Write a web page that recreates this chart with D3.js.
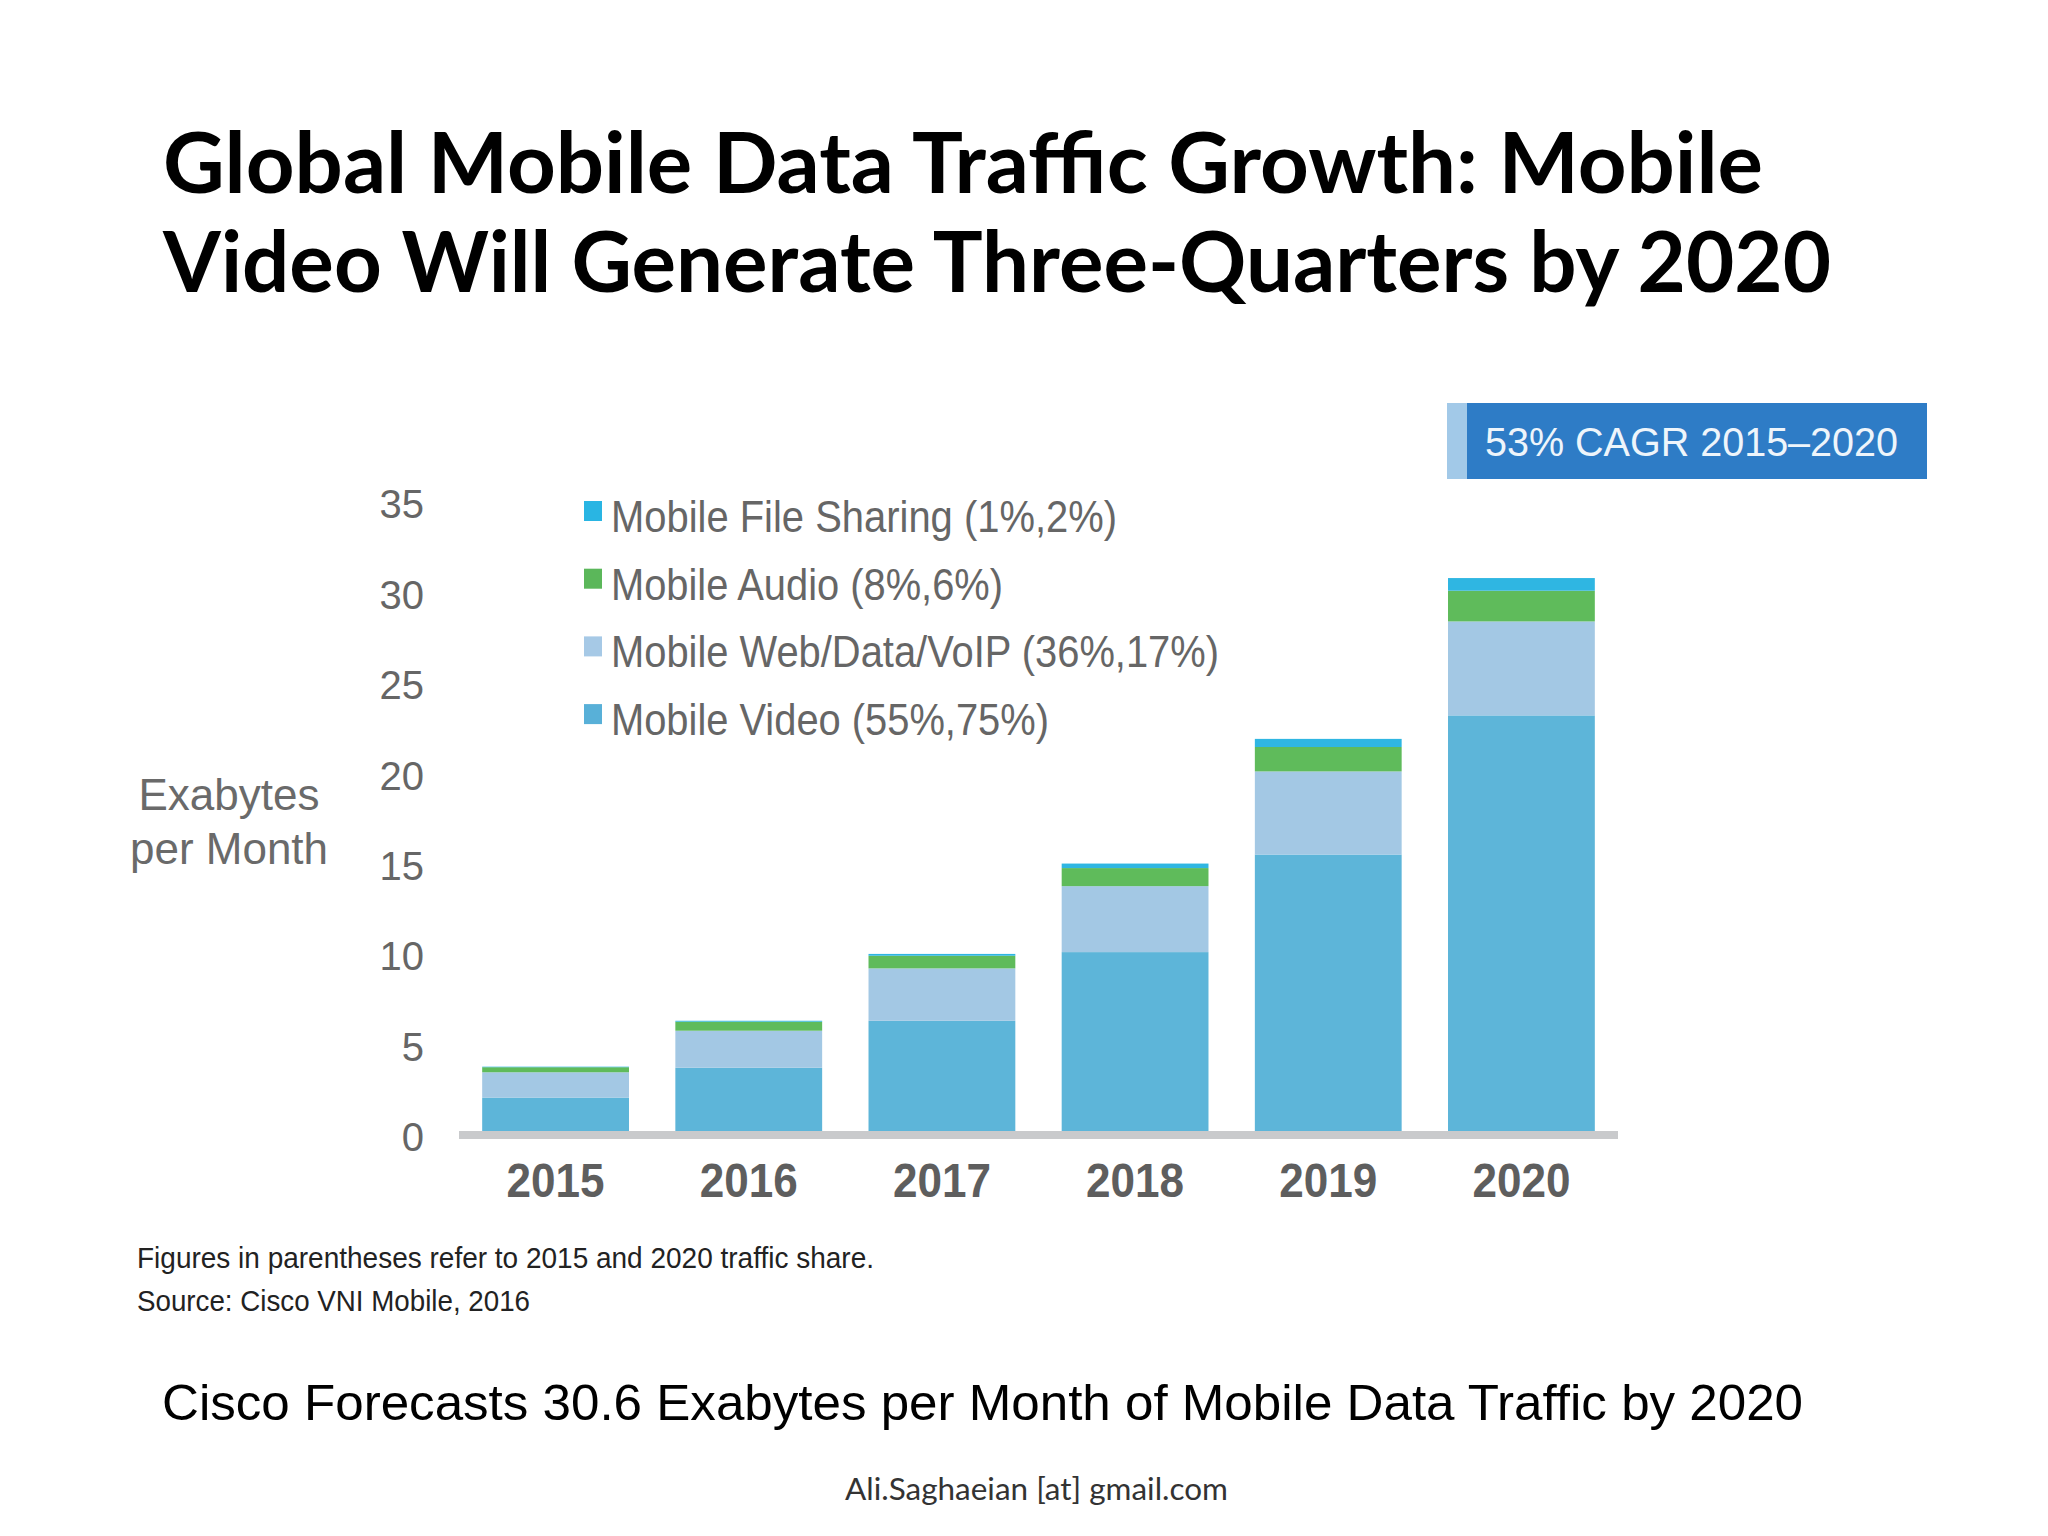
<!DOCTYPE html>
<html>
<head>
<meta charset="utf-8">
<script src="https://cdn.jsdelivr.net/npm/d3@7"></script>
<style>
  html, body { margin: 0; padding: 0; background: #ffffff; }
  svg { display: block; }
</style>
</head>
<body>
<svg id="chart" width="2048" height="1536"></svg>
<script>
// ---- Data ----
const years = ["2015", "2016", "2017", "2018", "2019", "2020"];
const mobileVideo = [1.85, 3.5, 6.1, 9.9, 15.3, 23.0];
const mobileWeb   = [1.4, 2.05, 2.9, 3.65, 4.6, 5.2];
const mobileAudio = [0.28, 0.5, 0.7, 1.0, 1.35, 1.7];
const mobileFile  = [0.03, 0.05, 0.1, 0.25, 0.45, 0.7];
const seriesKeys  = ["video", "web", "audio", "file"];
const legendLabels = [
  "Mobile File Sharing (1%,2%)",
  "Mobile Audio (8%,6%)",
  "Mobile Web/Data/VoIP (36%,17%)",
  "Mobile Video (55%,75%)"
];
const legendKeys = ["file", "audio", "web", "video"];
const yTicks = [0, 5, 10, 15, 20, 25, 30, 35];

const colors = { video: "#5db5d9", web: "#a3c8e4", audio: "#5fbb5b", file: "#2fb6e2" };
const legendColors = { video: "#58b0d8", web: "#a6c9e6", audio: "#5bb75a", file: "#29b5e3" };

const rows = years.map((y, i) => ({
  year: y, video: mobileVideo[i], web: mobileWeb[i], audio: mobileAudio[i], file: mobileFile[i]
}));

const svg = d3.select("#chart");

function fit(sel, w) {
  sel.attr("textLength", w).attr("lengthAdjust", "spacingAndGlyphs");
}

// ---- Title ----
const title = svg.append("g").attr("font-family", "Lato, 'Open Sans', sans-serif")
  .attr("font-weight", 700).attr("font-size", 84).attr("fill", "#000");
title.append("text").attr("x", 163).attr("y", 193)
  .text("Global Mobile Data Traffic Growth: Mobile").call(fit, 1600);
title.append("text").attr("x", 163).attr("y", 292)
  .text("Video Will Generate Three-Quarters by 2020").call(fit, 1668);

// ---- Scales ----
const x = d3.scaleBand().domain(years).range([459, 1618]).paddingInner(0.24).paddingOuter(0.12);
const y = d3.scaleLinear().domain([0, 35]).range([1131, 1131 - 35 * 18.07]);

// ---- Stacked bars ----
const stack = d3.stack().keys(seriesKeys);
const stacked = stack(rows);
svg.append("g").selectAll("g").data(stacked).join("g")
  .attr("fill", d => colors[d.key])
  .selectAll("rect").data(d => d).join("rect")
  .attr("x", d => x(d.data.year))
  .attr("width", x.bandwidth())
  .attr("y", d => y(d[1]))
  .attr("height", d => y(d[0]) - y(d[1]));

// ---- Baseline ----
svg.append("rect").attr("x", x.range()[0]).attr("y", y(0)).attr("width", x.range()[1] - x.range()[0])
  .attr("height", 8).attr("fill", "#c9cacc");

// ---- Y axis ----
const yAxis = d3.axisLeft(y).tickValues(yTicks).tickSize(0).tickPadding(0);
const gy = svg.append("g").attr("transform", "translate(424,0)").call(yAxis);
gy.select(".domain").remove();
gy.selectAll("text")
  .attr("font-family", "'Liberation Sans', Arial, sans-serif")
  .attr("font-size", 40).attr("fill", "#666666")
  .attr("x", 0).attr("dy", "0.36em")
  .attr("transform", "translate(0,5)");

// ---- X axis ----
const xAxis = d3.axisBottom(x).tickSize(0).tickPadding(0);
const gx = svg.append("g").attr("transform", "translate(0,1139)").call(xAxis);
gx.select(".domain").remove();
gx.selectAll("text")
  .attr("font-family", "'Liberation Sans', Arial, sans-serif")
  .attr("font-weight", 700).attr("font-size", 48).attr("fill", "#5e5e5e")
  .attr("y", 58).attr("dy", 0)
  .call(fit, 98);

// ---- Y axis title ----
const yt = svg.append("g").attr("font-family", "'Liberation Sans', Arial, sans-serif")
  .attr("font-size", 44).attr("fill", "#6a6a6a").attr("text-anchor", "middle");
yt.append("text").attr("x", 229).attr("y", 810).text("Exabytes");
yt.append("text").attr("x", 229).attr("y", 864).text("per Month");

// ---- Legend ----
const legendWidths = [506, 392, 608, 438];
const legend = svg.append("g");
const li = legend.selectAll("g").data(legendKeys).join("g")
  .attr("transform", (d, i) => `translate(0,${532 + i * 67.7})`);
li.append("rect").attr("x", 584).attr("y", -31).attr("width", 18).attr("height", 20)
  .attr("fill", d => legendColors[d]);
li.append("text").attr("x", 611).attr("y", 0)
  .attr("font-family", "'Liberation Sans', Arial, sans-serif")
  .attr("font-size", 44).attr("fill", "#666666")
  .text((d, i) => legendLabels[i])
  .each(function(d, i) { d3.select(this).call(fit, legendWidths[i]); });

// ---- CAGR box ----
svg.append("rect").attr("x", 1447).attr("y", 403).attr("width", 480).attr("height", 76).attr("fill", "#2e7cc6");
svg.append("rect").attr("x", 1447).attr("y", 403).attr("width", 20).attr("height", 76).attr("fill", "#a2c9e8");
svg.append("text").attr("x", 1485).attr("y", 456)
  .attr("font-family", "'Liberation Sans', Arial, sans-serif")
  .attr("font-size", 40).attr("fill", "#eef5fb")
  .text("53% CAGR 2015\u20132020").call(fit, 413);

// ---- Footnotes ----
const fn = svg.append("g").attr("font-family", "'Liberation Sans', Arial, sans-serif")
  .attr("font-size", 29).attr("fill", "#222");
fn.append("text").attr("x", 137).attr("y", 1268)
  .text("Figures in parentheses refer to 2015 and 2020 traffic share.").call(fit, 737);
fn.append("text").attr("x", 137).attr("y", 1311)
  .text("Source: Cisco VNI Mobile, 2016").call(fit, 393);

// ---- Subtitle ----
svg.append("text").attr("x", 162).attr("y", 1420)
  .attr("font-family", "'Liberation Sans', Arial, sans-serif")
  .attr("font-size", 50).attr("fill", "#000")
  .text("Cisco Forecasts 30.6 Exabytes per Month of Mobile Data Traffic by 2020").call(fit, 1641);

// ---- Footer ----
svg.append("text").attr("x", 845).attr("y", 1500)
  .attr("font-family", "Lato, 'Open Sans', sans-serif")
  .attr("font-size", 30).attr("fill", "#333")
  .text("Ali.Saghaeian [at] gmail.com").call(fit, 383);
</script>
</body>
</html>
